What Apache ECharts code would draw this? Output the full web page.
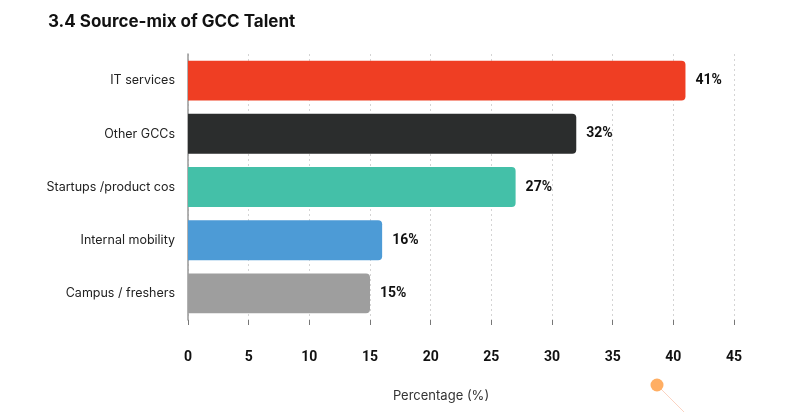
<!DOCTYPE html>
<html>
<head>
<meta charset="utf-8">
<script src="https://cdn.jsdelivr.net/npm/echarts@6/dist/echarts.min.js"></script>
<style>
  html, body { margin: 0; padding: 0; background: #fff; }
  #chart { width: 801px; height: 412px; }
</style>
</head>
<body>
<div id="chart"></div>
<script>
// data
const categories = ["IT services", "Other GCCs", "Startups /product cos", "Internal mobility", "Campus / freshers"];
const shares = [41, 32, 27, 16, 15];
const barColors = ["#EF3E23", "#2B2D2D", "#44C0A8", "#4D9BD6", "#9E9E9E"];

const chart = echarts.init(document.getElementById("chart"));

chart.setOption({
  animation: false,
  textStyle: { fontFamily: "Inter, Roboto, sans-serif" },
  title: {
    text: "3.4 Source-mix of GCC Talent",
    left: 43,
    top: 8,
    textStyle: { fontFamily: "Inter, Roboto, sans-serif", fontSize: 17, fontWeight: "bold", color: "#111" },
  },
  grid: { left: 188, right: 67, top: 54, bottom: 92, containLabel: false },
  xAxis: {
    type: "value",
    min: 0,
    max: 45,
    interval: 5,
    name: "Percentage (%)",
    nameLocation: "middle",
    nameGap: 70,
    nameTextStyle: { fontSize: 13, color: "#333", padding: [0, 40, 0, 0] },
    axisLine: { show: false },
    axisTick: { show: true, length: 5, lineStyle: { color: "#777" } },
    axisLabel: { margin: 30, fontFamily: "Roboto, sans-serif", fontSize: 14, fontWeight: "bold", color: "#111" },
    splitLine: { show: true, lineStyle: { type: [2, 3], color: "#d4d4d4" } },
  },
  yAxis: {
    type: "category",
    data: categories,
    inverse: true,
    axisLine: { show: true, lineStyle: { color: "#999", width: 1.5 } },
    axisTick: { show: false },
    axisLabel: { margin: 13, fontSize: 12.5, color: "#222" },
  },
  series: [
    {
      type: "bar",
      barCategoryGap: "25%",
      data: shares.map((v, i) => ({ value: v, itemStyle: { color: barColors[i] } })),
      itemStyle: { borderRadius: [0, 4, 4, 0] },
      label: {
        show: true,
        position: "right",
        distance: 10,
        formatter: "{c}%",
        fontFamily: "Roboto, sans-serif",
        fontSize: 14,
        fontWeight: "bold",
        color: "#111",
      },
    },
  ],
  graphic: [
    {
      type: "line",
      shape: { x1: 657, y1: 385, x2: 684, y2: 412 },
      style: { stroke: "#FBD3C2", lineWidth: 1 },
    },
    {
      type: "circle",
      shape: { cx: 657, cy: 385, r: 6.5 },
      style: { fill: "#FFAE63" },
    },
  ],
});
</script>
</body>
</html>
